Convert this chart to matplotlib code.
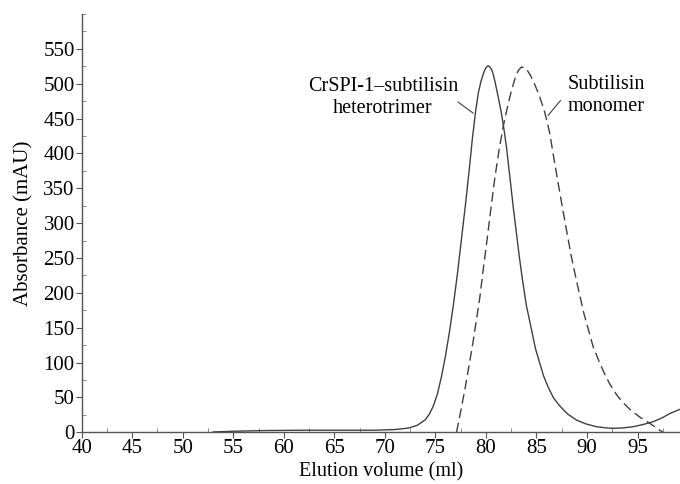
import matplotlib
matplotlib.use("Agg")
import matplotlib.pyplot as plt
from matplotlib.ticker import MultipleLocator

plt.rcParams['font.family'] = ['Liberation Serif', 'DejaVu Serif']

# CrSPI-1-subtilisin heterotrimer (solid)
trimer_x = [53.0, 55.0, 58.0, 62.0, 66.0, 69.0, 71.0, 72.3, 73.2, 74.0, 74.4, 74.8,
            75.2, 75.6, 76.0, 76.4, 76.8, 77.2, 77.6, 78.0, 78.34, 78.67, 79.0, 79.25,
            79.5, 79.8, 80.0, 80.22, 80.45, 80.65, 80.88, 81.2, 81.54, 81.8, 82.04, 82.4,
            82.7, 83.03, 83.3, 83.62, 84.0, 84.51, 84.9, 85.33, 85.7, 86.15, 86.7, 87.35,
            88.1, 88.96, 89.9, 90.94, 91.8, 92.5, 93.5, 94.56, 95.5, 96.5, 97.4, 98.2,
            99.2]
trimer_y = [0.5, 1.5, 2.5, 3.0, 3.0, 3.0, 4.0, 6.0, 10.0, 18.0, 26.0, 38.0,
            55.0, 80.0, 110.0, 145.0, 185.0, 230.0, 280.0, 330.0, 376.0, 423.0, 463.0, 487.0,
            503.0, 517.0, 523.0, 526.0, 523.0, 517.0, 504.0, 482.0, 457.0, 433.0, 408.0, 362.0,
            323.0, 284.0, 252.0, 218.0, 182.0, 147.0, 120.0, 99.0, 81.0, 65.0, 49.0, 37.0,
            26.0, 17.6, 12.0, 8.0, 6.5, 5.7, 6.2, 8.0, 11.0, 15.0, 20.5, 27.0,
            33.0]

# Subtilisin monomer (dashed)
monomer_x = [77.09, 77.5, 77.91, 78.2, 78.47, 78.75, 79.0, 79.4, 79.7, 80.1, 80.5, 80.88,
             81.3, 81.7, 82.04, 82.45, 82.8, 83.0, 83.25, 83.52, 83.8, 84.1, 84.4, 84.8,
             85.3, 85.8, 86.3, 86.7, 87.1, 87.5, 87.97, 88.45, 88.95, 89.7, 90.28, 90.6,
             91.27, 91.8, 92.26, 92.92, 93.6, 94.24, 95.2, 96.2, 96.9, 97.5]
monomer_y = [0.0, 30.0, 61.0, 85.0, 108.0, 132.0, 156.0, 194.0, 230.0, 275.0, 322.0, 365.0,
             405.0, 438.0, 461.0, 486.0, 504.0, 513.0, 520.0, 524.0, 523.0, 519.0, 512.0, 500.0,
             482.0, 460.0, 430.0, 395.0, 361.0, 328.0, 290.0, 252.0, 218.0, 170.0, 140.0, 123.0,
             99.0, 82.0, 69.0, 54.0, 42.0, 33.0, 22.0, 13.0, 6.0, 0.0]

xticks = [40, 45, 50, 55, 60, 65, 70, 75, 80, 85, 90, 95]
yticks = list(range(0, 551, 50))

fig = plt.figure(figsize=(6.8, 4.84), dpi=100)
ax = fig.add_axes([0.1201, 0.1068, 0.8799, 0.8642])

line_col = '#404040'
ax.plot(trimer_x, trimer_y, color=line_col, lw=1.0, solid_joinstyle='round')
ax.plot(monomer_x, monomer_y, color=line_col, lw=1.0, linestyle=(0, (7, 3.5)))

ax.set_xlim(40, 99.2)
ax.set_ylim(0, 600)
ax.set_xticks(xticks)
ax.set_yticks(yticks)
ax.xaxis.set_minor_locator(MultipleLocator(2.5))
ax.yaxis.set_minor_locator(MultipleLocator(25))
ax.tick_params(which='major', direction='out', length=4, width=0.8, color='#555555',
               labelsize=15, pad=1)
ax.tick_params(which='minor', direction='in', length=3, width=0.6, color='#777777')

for s in ['top', 'right']:
    ax.spines[s].set_visible(False)
for s in ['left', 'bottom']:
    ax.spines[s].set_color('#555555')
    ax.spines[s].set_linewidth(1.0)

ax.set_xlabel('Elution volume (ml)', fontsize=14.5, labelpad=3)
ax.set_ylabel('Absorbance (mAU)', fontsize=15, labelpad=7)

ax.text(69.8, 480, 'CrSPI-1\u2013subtilisin\nheterotrimer', fontsize=14.5,
        ha='center', va='center', linespacing=1.25)
ax.plot([77.25, 78.73], [473.6, 457.9], color=line_col, lw=0.8)
ax.text(91.9, 483, 'Subtilisin\nmonomer', fontsize=14.5,
        ha='center', va='center', linespacing=1.25)
ax.plot([87.38, 86.15], [476, 454.6], color=line_col, lw=0.8)

fig.savefig('out.png', dpi=100)
